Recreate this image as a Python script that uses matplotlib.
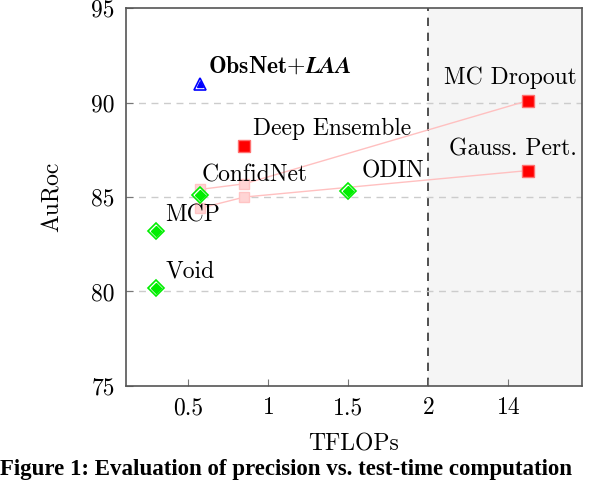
import matplotlib
matplotlib.use("Agg")
import matplotlib.pyplot as plt

plt.rcParams['font.family'] = ['cmr10', 'DejaVu Serif']
plt.rcParams['mathtext.fontset'] = 'cm'
plt.rcParams['axes.formatter.use_mathtext'] = True

# x positions on the plot (tick 14 sits at 2.5, after the break at 2)
tick_pos = [0.5, 1, 1.5, 2, 2.5]
tick_labels = ["0.5", "1", "1.5", "2", "14"]

# single-pass methods (green diamonds)
green_names = ["Void", "MCP", "ConfidNet", "ODIN"]
green_x = [0.3, 0.3, 0.57, 1.5]
green_y = [80.2, 83.2, 85.1, 85.3]

# multi-pass methods (red squares)
red_names = ["Deep Ensemble", "MC Dropout", "Gauss. Pert."]
red_x = [0.85, 2.62, 2.62]
red_y = [87.7, 90.1, 86.4]

# ours
ours_x = [0.57]
ours_y = [91.0]

# faded trajectories for MC Dropout and Gauss. Pert.
mcd_traj_x = [0.57, 0.85, 2.62]
mcd_traj_y = [85.4, 85.7, 90.1]
gp_traj_x = [0.57, 0.85, 2.62]
gp_traj_y = [84.4, 85.0, 86.4]

fig = plt.figure(figsize=(6.16, 4.8), dpi=100)
ax = fig.add_axes([0.2045, 0.196, 0.7405, 0.787])

ax.axvspan(2, 3.0, color='#f5f5f5', zorder=0)
ax.axvline(2, color='#333333', ls=(0, (5, 4)), lw=1.2, zorder=1)

for y in [80, 85, 90]:
    ax.axhline(y, color='#cccccc', ls=(0, (5, 4)), lw=1, zorder=1)

# faded lines and squares
for tx, ty in [(mcd_traj_x, mcd_traj_y), (gp_traj_x, gp_traj_y)]:
    ax.plot(tx, ty, color='#ffc0c0', lw=1, zorder=2)
    ax.plot(tx[:-1], ty[:-1], 's', color='#ffd4d4', ms=7.5, mec='#ffc4c4', zorder=2, ls='none')

# green diamonds: outer outline + inner fill
ax.plot(green_x, green_y, 'D', ms=8.5, mfc='white', mec='#00ee00', mew=1.2, ls='none', zorder=3)
ax.plot(green_x, green_y, 'D', ms=5, color='#00ee00', ls='none', zorder=4)

# red squares
ax.plot(red_x, red_y, 's', ms=8, mfc='#ff0000', mec='#ff7070', mew=1, ls='none', zorder=3)

# blue triangle
ax.plot(ours_x, ours_y, '^', ms=9, mfc='white', mec='blue', mew=1.2, ls='none', zorder=3)
ax.plot(ours_x, ours_y, '^', ms=5, color='blue', ls='none', zorder=4)

fs = 17
offsets = {"Void": (9, 16), "MCP": (9, 16), "ConfidNet": (2, 20), "ODIN": (13, 20)}
for n, x, y in zip(green_names, green_x, green_y):
    ax.annotate(n, (x, y), xytext=offsets[n], textcoords='offset pixels',
                fontsize=fs, va='center', ha='left')
ax.annotate("Deep Ensemble", (red_x[0], red_y[0]), xytext=(9, 17), textcoords='offset pixels',
            fontsize=fs, va='center', ha='left')
ax.annotate("MC Dropout", (red_x[1], red_y[1]), xytext=(49, 23), textcoords='offset pixels',
            fontsize=fs, va='center', ha='right')
ax.annotate("Gauss. Pert.", (red_x[2], red_y[2]), xytext=(49, 21), textcoords='offset pixels',
            fontsize=fs, va='center', ha='right')
ax.annotate(r"$\mathbf{ObsNet{+}}\boldsymbol{LAA}$", (ours_x[0], ours_y[0]), xytext=(8, 17),
            textcoords='offset pixels', fontsize=fs, va='center', ha='left')

ax.set_xlim(0.11, 2.96)
ax.set_ylim(75, 95)
ax.set_xticks(tick_pos)
ax.set_xticklabels(tick_labels)
ax.set_yticks([75, 80, 85, 90, 95])
ax.set_yticklabels(["75", "80", "85", "90", "95"])
ax.tick_params(axis='both', labelsize=fs, direction='in', color='#777777', length=5, pad=8)
for s in ax.spines.values():
    s.set_color('#555555')
    s.set_linewidth(1.2)

ax.set_xlabel("TFLOPs", fontsize=fs, labelpad=10)
ax.set_ylabel("AuRoc", fontsize=fs, labelpad=20)

fig.text(0.0, 0.0, "Figure 1: Evaluation of precision vs. test-time computation",
         fontsize=16.5, fontweight='bold', family='Liberation Serif', ha='left', va='bottom')

fig.savefig("out.png", dpi=100)
